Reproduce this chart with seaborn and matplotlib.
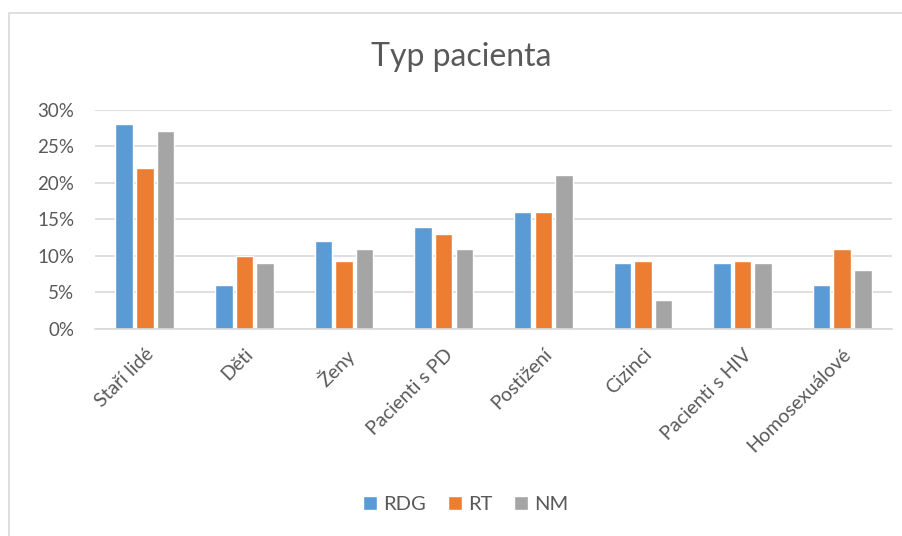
import matplotlib
matplotlib.use("Agg")
import matplotlib.pyplot as plt
from matplotlib.patches import Rectangle
from matplotlib.ticker import PercentFormatter
import pandas as pd
import seaborn as sns

# data (percent)
kategorie = ["Staří lidé", "Děti", "Ženy", "Pacienti s PD", "Postižení",
             "Cizinci", "Pacienti s HIV", "Homosexuálové"]
rdg = [28, 6, 12, 14, 16, 9, 9, 6]
rt = [22, 10, 9.3, 13, 16, 9.3, 9.3, 11]
nm = [27, 9, 11, 11, 21, 4, 9, 8]
skupiny = ["RDG", "RT", "NM"]
barvy = ["#5B9BD5", "#ED7D31", "#A5A5A5"]

df = pd.DataFrame({"RDG": rdg, "RT": rt, "NM": nm}, index=kategorie)
df = df.reset_index(names="typ").melt(id_vars="typ", var_name="skupina", value_name="podil")

sns.set_theme(style="white")
plt.rcParams["font.family"] = ["Lato", "DejaVu Sans"]
text_col = "#595959"

fig = plt.figure(figsize=(9.02, 5.36), dpi=100)
ax = fig.add_axes([95 / 902, 1 - 329 / 536, (892 - 95) / 902, (329 - 109.5) / 536])

sns.barplot(data=df, x="typ", y="podil", hue="skupina", hue_order=skupiny,
            palette=barvy, saturation=1, width=0.62, gap=0.15, ax=ax, legend=True)

ax.set_ylim(0, 30)
ax.set_yticks(range(0, 31, 5))
ax.yaxis.set_major_formatter(PercentFormatter(decimals=0))
ax.grid(axis="y", color="#D9D9D9", linewidth=1.2)
ax.set_axisbelow(True)
for s in ["top", "right", "left"]:
    ax.spines[s].set_visible(False)
ax.spines["bottom"].set_color("#D9D9D9")
ax.spines["bottom"].set_linewidth(1.2)
ax.set_xlabel("")
ax.set_ylabel("")
ax.tick_params(axis="y", length=0, labelsize=13.5, colors=text_col, pad=15)
ax.tick_params(axis="x", length=0, labelsize=14, colors=text_col, pad=12)
plt.setp(ax.get_xticklabels(), rotation=45, ha="right", rotation_mode="anchor")
ax.set_xlim(-0.5, len(kategorie) - 0.5)

fig.text(461 / 902, 1 - 57 / 536, "Typ pacienta", fontsize=23, color=text_col,
         ha="center", va="center")

leg = ax.legend(loc="center", bbox_to_anchor=(0.465, -0.80), ncol=3, frameon=False,
                fontsize=14.5, handlelength=0.7, handleheight=0.7,
                handletextpad=0.3, columnspacing=1.1)
for t in leg.get_texts():
    t.set_color(text_col)

# chart border like the Excel frame
fig.patches.append(Rectangle((9 / 902, -0.1), 1.2, 1 - 13 / 536 + 0.1,
                             transform=fig.transFigure, fill=False,
                             edgecolor="#D9D9D9", linewidth=1.2))

fig.savefig("out.png", dpi=100)
